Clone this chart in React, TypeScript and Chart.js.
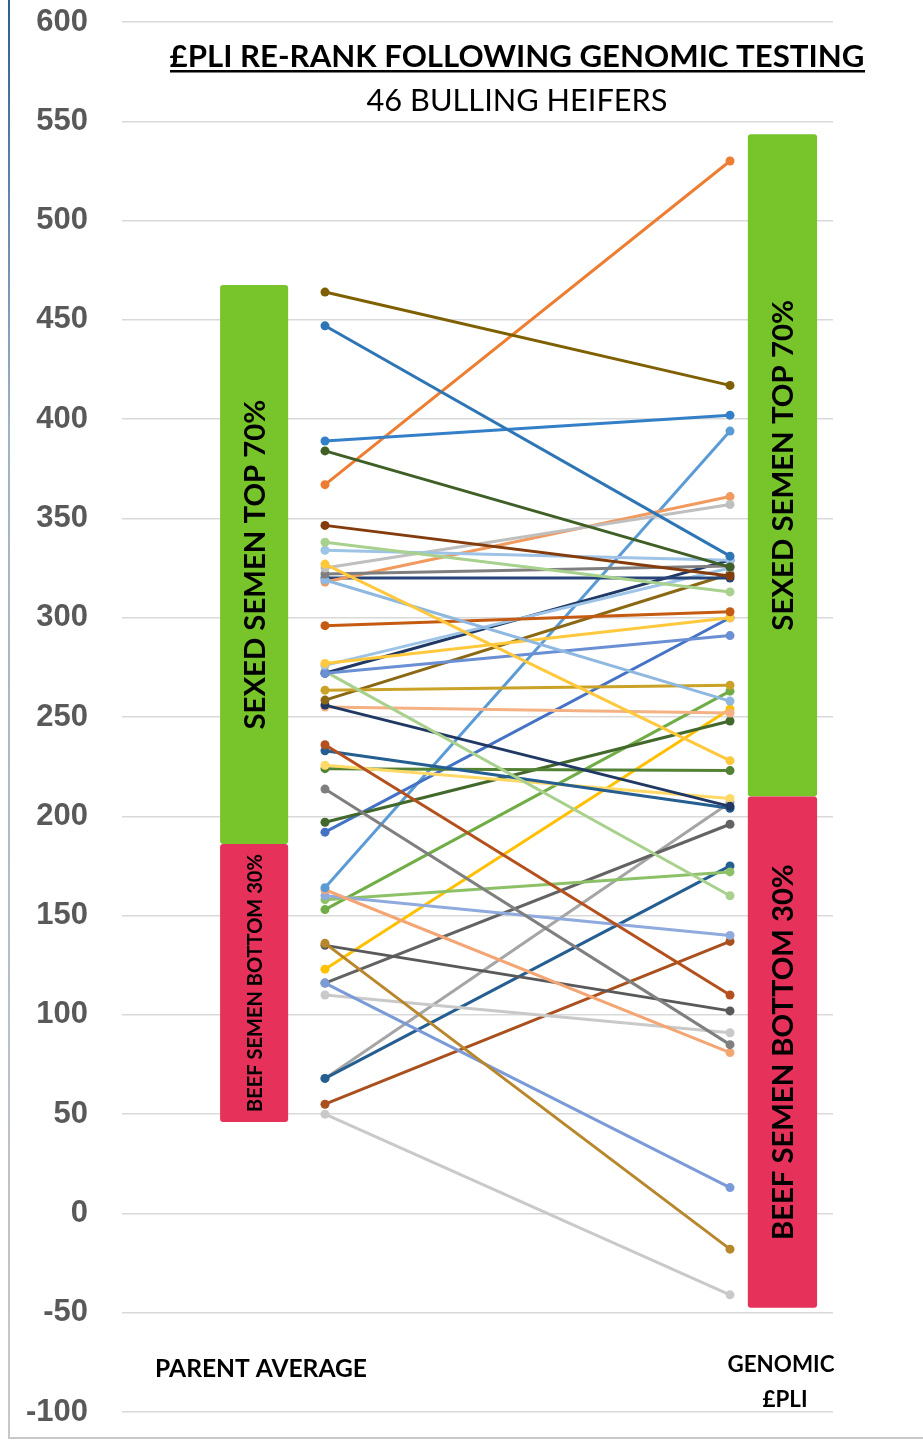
import React, { useEffect, useRef } from "react";
import { Chart, registerables } from "chart.js";

Chart.register(...registerables);

// ---- data ----
const parentAverage = [
  464, 447, 389, 384, 367, 346.5, 338, 334, 327, 325, 322, 319, 318, 320, 296, 277, 276, 272, 272, 273,
  263.5, 258.5, 256, 255, 236, 233, 225.7, 224, 213.7, 197, 192, 164, 163, 160, 158, 153, 136, 135, 123,
  116, 116, 110, 68, 68, 55, 50,
];
const genomicPli = [
  417, 331, 402, 325.5, 530, 321, 313, 329, 228, 357, 326, 258, 361, 320, 303, 300, 325, 291, 329, 160,
  266, 322, 205, 252, 110, 204, 209, 223, 85, 248, 300, 394, 81, 140, 172, 263, -18, 102, 254,
  13, 196, 91, 175, 207, 137, -41,
];
const lineColors = [
  "#7F6000", "#2E75B6", "#3480C8", "#3F5F26", "#ED7D31", "#843C0C", "#A9D18E", "#9DC3E6", "#FFC83D", "#BFBFBF",
  "#7F7F7F", "#8FB8E0", "#F19A5F", "#264478", "#C55A11", "#FFC83D", "#9DC3E6", "#6A8FD4", "#1F3864", "#A9D18E",
  "#C9A227", "#8B6914", "#203864", "#F4B183", "#B4501E", "#255E91", "#FFD966", "#548235", "#7F7F7F", "#43682B",
  "#4472C4", "#5B9BD5", "#F4A574", "#8FAADC", "#8CC168", "#70AD47", "#B8862B", "#595959", "#FFC000", "#7B9BD8",
  "#636363", "#C9C9C9", "#255E91", "#A5A5A5", "#A9501E", "#C9C9C9",
];
const axisCategories = ["PARENT AVERAGE", "GENOMIC £PLI"];
const bandSide = [0, 0, 1, 1]; // index into axisCategories
const bandLow = [186, 46, 210, -47.5];
const bandHigh = [467.5, 186, 543.5, 210];
const bandLabels = ["SEXED SEMEN TOP 70%", "BEEF SEMEN BOTTOM 30%", "SEXED SEMEN TOP 70%", "BEEF SEMEN BOTTOM 30%"];
const bandColors = ["#77C52A", "#E6325A", "#77C52A", "#E6325A"];
const yMin = -100;
const yMax = 600;
const yStep = 50;
const titleText = "£PLI RE-RANK FOLLOWING GENOMIC TESTING";
const subtitleText = "46 BULLING HEIFERS";

const FONT = "Lato, 'Open Sans', sans-serif";

function fitSize(ctx: CanvasRenderingContext2D, text: string, weight: string, width: number) {
  ctx.font = `${weight} 100px ${FONT}`;
  const w = ctx.measureText(text).width;
  return (100 * width) / w;
}

function drawFitted(
  ctx: CanvasRenderingContext2D,
  text: string,
  weight: string,
  width: number,
  cx: number,
  baseline: number,
  color: string
) {
  const size = fitSize(ctx, text, weight, width);
  ctx.font = `${weight} ${size}px ${FONT}`;
  ctx.fillStyle = color;
  ctx.textAlign = "center";
  ctx.textBaseline = "alphabetic";
  ctx.fillText(text, cx, baseline);
}

// band x extents (in x-scale units) relative to each category position
const bandXOffsets = [
  [-0.259, -0.091],
  [0.044, 0.215],
];
const bandLabelWidths = [330, 258, 331, 376];

const decorPlugin = {
  id: "decor",
  beforeDatasetsDraw(chart: any) {
    const { ctx, scales } = chart;
    const xs = scales.x;
    const ys = scales.y;
    ctx.save();
    bandLow.forEach((lo, i) => {
      const side = bandSide[i];
      const x0 = xs.getPixelForValue(side + bandXOffsets[side][0]);
      const x1 = xs.getPixelForValue(side + bandXOffsets[side][1]);
      const yTop = ys.getPixelForValue(bandHigh[i]);
      const yBot = ys.getPixelForValue(lo);
      ctx.fillStyle = bandColors[i];
      ctx.beginPath();
      (ctx as any).roundRect(x0, yTop, x1 - x0, yBot - yTop, 3);
      ctx.fill();
      const cx = (x0 + x1) / 2;
      const cy = (yTop + yBot) / 2;
      const size = fitSize(ctx, bandLabels[i], "bold", bandLabelWidths[i]);
      ctx.save();
      ctx.translate(cx, cy);
      ctx.rotate(-Math.PI / 2);
      ctx.font = `bold ${size}px ${FONT}`;
      ctx.fillStyle = "#000";
      ctx.textAlign = "center";
      ctx.textBaseline = "middle";
      ctx.fillText(bandLabels[i], 0, 1);
      ctx.restore();
    });
    ctx.restore();
  },
  afterDraw(chart: any) {
    const { ctx } = chart;
    ctx.save();
    const g = ctx.createLinearGradient(0, 0, 0, 1440);
    g.addColorStop(0, "#2F5F8F");
    g.addColorStop(0.3, "#9FB3C8");
    g.addColorStop(1, "#C8C8C8");
    ctx.strokeStyle = g;
    ctx.lineWidth = 2;
    ctx.beginPath();
    ctx.moveTo(9, 0);
    ctx.lineTo(9, 1438);
    ctx.lineTo(923, 1438);
    ctx.stroke();

    const tSize = fitSize(ctx, titleText, "bold", 695);
    ctx.font = `bold ${tSize}px ${FONT}`;
    ctx.fillStyle = "#000";
    ctx.textAlign = "center";
    ctx.textBaseline = "alphabetic";
    ctx.fillText(titleText, 517, 67);
    ctx.fillRect(170, 70, 695, 2.5);
    drawFitted(ctx, subtitleText, "normal", 301, 517, 111, "#000");

    drawFitted(ctx, "PARENT AVERAGE", "bold", 212, 261, 1377, "#000");
    drawFitted(ctx, "GENOMIC", "bold", 107, 781, 1372, "#000");
    drawFitted(ctx, "£PLI", "bold", 45, 785, 1407, "#000");
    ctx.restore();
  },
};

export default function App() {
  const ref = useRef<HTMLCanvasElement | null>(null);
  useEffect(() => {
    if (!ref.current) return;
    const datasets = parentAverage.map((p, i) => ({
      label: `Heifer ${i + 1}`,
      data: [
        { x: 0, y: p },
        { x: 1, y: genomicPli[i] },
      ],
      borderColor: lineColors[i],
      backgroundColor: lineColors[i],
      borderWidth: 3,
      pointRadius: 4.5,
      pointBorderWidth: 0,
      tension: 0,
    }));
    const chart = new Chart(ref.current, {
      type: "line",
      data: { datasets },
      plugins: [decorPlugin],
      options: {
        animation: false,
        responsive: false,
        devicePixelRatio: 1,
        layout: { padding: { top: 22, bottom: 28, left: 8, right: 90 } },
        plugins: {
          legend: { display: false },
          title: { display: false },
          tooltip: { enabled: false },
        },
        scales: {
          x: {
            type: "linear",
            min: -0.5012,
            max: 1.2543,
            display: false,
          },
          y: {
            min: yMin,
            max: yMax,
            border: { display: false },
            grid: { color: "#D9D9D9", lineWidth: 1.5, drawTicks: false },
            ticks: {
              stepSize: yStep,
              padding: 34,
              color: "#595959",
              font: { family: "'Liberation Sans', Arial, sans-serif", weight: "bold", size: 31 },
            },
            afterFit: (scale: any) => {
              scale.width = 114;
              scale.paddingTop = 0;
              scale.paddingBottom = 0;
            },
          },
        },
      },
    });
    return () => chart.destroy();
  }, []);
  return (
    <div style={{ position: "absolute", left: 0, top: 0, width: 923, height: 1440, background: "#fff" }}>
      <canvas ref={ref} width={923} height={1440} aria-label={axisCategories.join(" vs ")} />
    </div>
  );
}
